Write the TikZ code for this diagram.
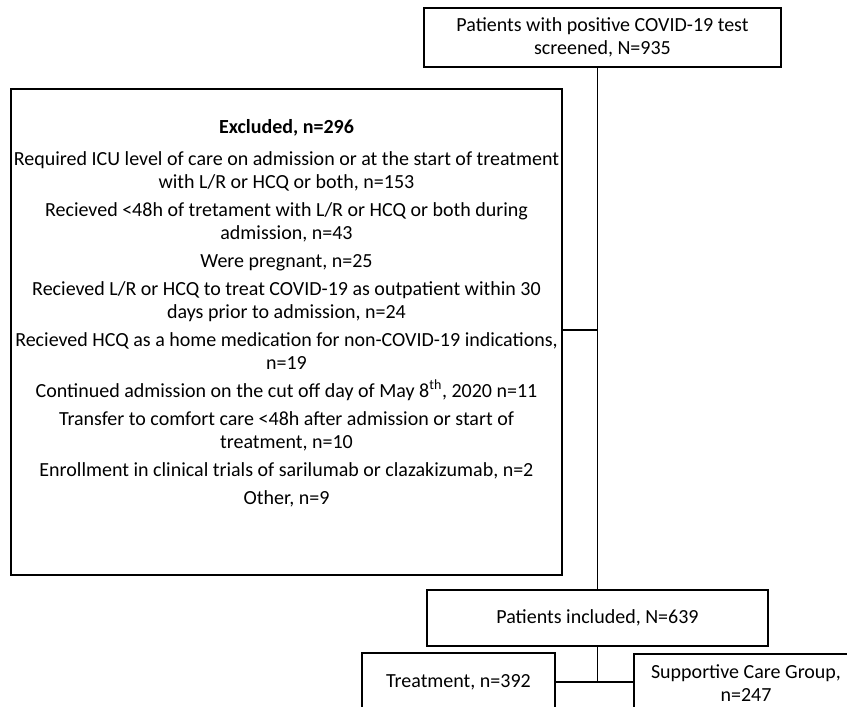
\documentclass[tikz,border=0pt]{standalone}
\usepackage{fontspec}
\setmainfont{Carlito}
\usepackage{tikz}
\usetikzlibrary{positioning,calc}

\tikzset{
    flowbox/.style={draw, line width=1.5pt, align=center, inner sep=0pt},
    boxtext/.style={align=center, font=\fontsize{20}{23}\selectfont},
    link/.style={line width=1.5pt}
}

\begin{document}
\begin{tikzpicture}[x=1pt,y=-1pt]
    \useasboundingbox (0,0) rectangle (847,707);
    \clip (0,0) rectangle (847,707);

    % Screened
    \node (screen) [flowbox, boxtext, minimum width=357, minimum height=59] at (602.5,37.5) {Patients with positive COVID-19 test\\ screened, N=935};

    % Excluded
    \node (excluded) [flowbox, minimum width=551, minimum height=486] at (286.5,332) {};
    \node (extext) [boxtext, anchor=north, inner sep=0pt] at (286.5,119) {\textbf{Excluded, n=296}\\[9pt]
        Required ICU level of care on admission or at the start of treatment\\ with L/R or HCQ or both, n=153\\[5pt]
        Recieved <48h of tretament with L/R or HCQ or both during\\ admission, n=43\\[5pt]
        Were pregnant, n=25\\[5pt]
        Recieved L/R or HCQ to treat COVID-19 as outpatient within 30\\ days prior to admission, n=24\\[5pt]
        Recieved HCQ as a home medication for non-COVID-19 indications,\\ n=19\\[5pt]
        Continued admission on the cut off day of May 8\textsuperscript{th}, 2020 n=11\\[5pt]
        Transfer to comfort care <48h after admission or start of\\ treatment, n=10\\[5pt]
        Enrollment in clinical trials of sarilumab or clazakizumab, n=2\\[5pt]
        Other, n=9};

    % Included
    \node (included) [flowbox, boxtext, minimum width=341, minimum height=56] at (597.5,618) {Patients included, N=639};

    % Groups
    \node (treatment) [flowbox, boxtext, minimum width=193, minimum height=58] at (458.5,682) {Treatment, n=392};
    \node (supportive) [flowbox, boxtext, minimum width=224, minimum height=58] at (746,683) {Supportive Care Group,\\ n=247};

    % Connectors
    \coordinate (exjoin) at (597.5,330);
    \coordinate (split) at (597.5,682);
    \draw[link] (included.north |- screen.south) -- (included.north);
    \draw[link] (excluded.east |- exjoin) -- (exjoin);
    \draw[link] (included.south) -- (split);
    \draw[link] (treatment.east |- split) -- (supportive.west |- split);

\end{tikzpicture}
\end{document}
